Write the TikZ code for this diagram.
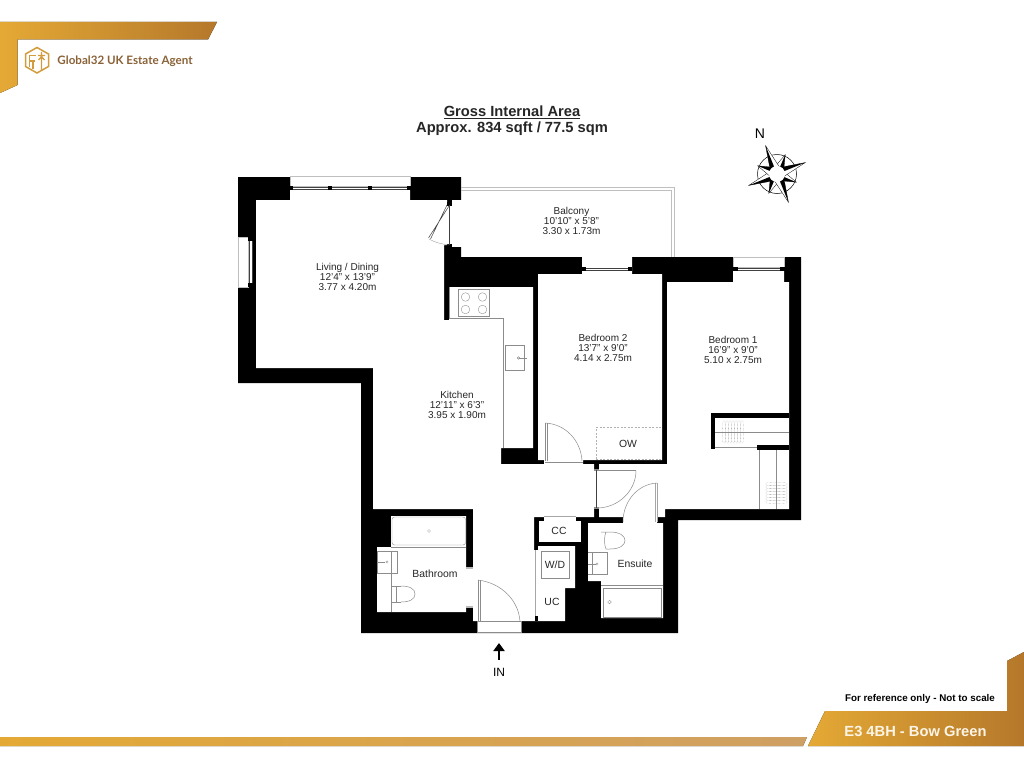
\documentclass[tikz,border=0pt]{standalone}
\usepackage{fontspec}
\setmainfont{Liberation Sans}
\newfontfamily\logofont{Lato}
\usetikzlibrary{arrows.meta}
\definecolor{goldL}{HTML}{E4A935}
\definecolor{goldR}{HTML}{B5782B}
\definecolor{sandR}{HTML}{CFA064}
\definecolor{logoText}{HTML}{8A6238}
\definecolor{logoGold}{HTML}{D29C3C}
\definecolor{fixGray}{HTML}{8C8C8C}
\tikzset{
    wall/.style={fill=black},
    room/.style={fill=white},
    fixture/.style={draw=fixGray, line width=0.5pt},
    thinline/.style={draw=black!75, line width=0.5pt},
    roomlabel/.style={font=\fontsize{10}{10}\selectfont, align=center, inner sep=0pt, text=black!85},
    tag/.style={font=\fontsize{10.4}{11}\selectfont, inner sep=0pt, text=black!85},
    hanger/.style={draw=black!55, line width=0.3pt, densely dotted},
}
\begin{document}
\begin{tikzpicture}[x=1pt, y=-1pt]
    \useasboundingbox[fill=white] (0,0) rectangle (1024,768);
    % banners
    \fill[left color=goldL, right color=goldR] (0,22) -- (217,22) -- (208,39.5) -- (17.5,39.5) -- (17.5,85) -- (0,93) -- cycle;
    \fill[left color=goldL, right color=sandR] (0,737) -- (807,737) -- (803,746) -- (0,746) -- cycle;
    \fill[left color=goldL, right color=goldR] (825,711) -- (1007,711) -- (1007,661) -- (1024,652) -- (1024,746) -- (808,746) -- cycle;
    % logo
    \draw[logoGold, line width=1.5pt] (37,47.5) -- (48.5,54) -- (48.5,66.5) -- (37,73) -- (25.5,66.5) -- (25.5,54) -- cycle;
    \draw[logoGold, line width=1.2pt] (29.5,55.5) -- (36,55.5) (29.5,55.5) -- (29.5,67) (29.5,61) -- (35,61) (33,68.5) -- (33,61);
    \draw[logoGold, line width=1.2pt] (38,55.5) -- (45,55.5) (41.5,52) -- (41.5,70) (38.5,60) -- (41.5,56.5) -- (44.5,60);
    \node[font=\logofont\bfseries\fontsize{11.6}{13}\selectfont, text=logoText, inner sep=0pt] (logotext) at (125,61) {Global32 UK Estate Agent};
    % walls
    \fill[wall] (238,177) -- (461,177) -- (461,200) -- (452,200) -- (452,247) -- (461,247) -- (461,257) -- (801,257) -- (801,520) -- (678,520) -- (678,633) -- (361,633) -- (361,383) -- (238,383) -- cycle;
    % living, kitchen and hall
    \fill[room] (256,200) -- (290,200) -- (290,177) -- (410,177) -- (410,200) -- (447,200) -- (447,206) -- (452,206) -- (452,245) -- (444,245) -- (444,320) -- (449,320) -- (449,287) -- (533,287) -- (533,448) -- (501,448) -- (501,464) -- (594,464) -- (594,470) -- (599,470) -- (599,508) -- (594,508) -- (594,517) -- (534,517) -- (534,621) -- (521,621) -- (521,633) -- (477,633) -- (477,621) -- (473,621) -- (473,509) -- (373,509) -- (373,368) -- (256,368) -- cycle;
    \fill[room] (238,237) rectangle (252,287);
    \fill[room] (452,200) rectangle (461,247);
    % bedroom 2
    \fill[room] (538,274) -- (582,274) -- (582,257) -- (632,257) -- (632,274) -- (662,274) -- (662,460) -- (583,460) -- (583,464) -- (544,464) -- (544,460) -- (538,460) -- cycle;
    % bedroom 1 and lobby
    \fill[room] (667,282) -- (733,282) -- (733,257) -- (784,257) -- (784,282) -- (789,282) -- (789,509) -- (665,509) -- (665,517) -- (599,517) -- (599,464) -- (667,464) -- cycle;
    % wardrobes
    \fill[wall] (711,413) rectangle (789,418);
    \fill[wall] (711,413) rectangle (715,449);
    \fill[wall] (757,445) rectangle (789,450);
    % bathroom
    \fill[room] (391,516) -- (466,516) -- (466,612) -- (377,612) -- (377,547) -- (391,547) -- cycle;
    \fill[room] (466,568) rectangle (473,607);
    % cupboards
    \fill[room] (539,521) rectangle (581,542);
    \fill[room] (544,516) rectangle (576,521);
    \fill[room] (538,546) -- (575,546) -- (575,588) -- (565,588) -- (565,621) -- (534,621) -- (534,550) -- (538,550) -- cycle;
    % ensuite
    \fill[room] (588,523) -- (623,523) -- (623,517) -- (657,517) -- (657,523) -- (663,523) -- (663,618) -- (601,618) -- (601,581) -- (588,581) -- cycle;
    % windows
    \draw[fixture, draw=black!25] (290,176.5) rectangle (410,186);
    \draw[thinline] (290,187) -- (410,187) (290,189) -- (410,189);
    \foreach \x in {290,329,369,408} \fill (\x-1,186) rectangle (\x+3,190);
    \draw[fixture, draw=black!25] (238,237) rectangle (248,287);
    \draw[thinline] (249.5,240) -- (249.5,284) (252,240) -- (252,284);
    \fill (248,237) rectangle (253,241);
    \fill (248,283) rectangle (253,287);
    \draw[thinline] (584,268) -- (630,268) (584,270) -- (630,270);
    \fill (582,267) rectangle (586,271);
    \fill (628,267) rectangle (632,271);
    \draw[fixture, draw=black!25] (733,257) rectangle (784,267);
    \draw[thinline] (735,268) -- (782,268) (735,270) -- (782,270);
    \fill (733,267) rectangle (738,271);
    \fill (780,267) rectangle (785,271);
    % balcony
    \draw[fixture, draw=black!25] (461,187) -- (674,187) -- (674,257) (461,190) -- (671.5,190) -- (671.5,257);
    % balcony door
    \fill (447,202) rectangle (452,206);
    \fill (447,244) rectangle (452,248);
    \draw[thinline, line width=0.7pt] (449,205) -- (449,245);
    \draw[thinline] (449,206) -- (428.5,238) (447,205) -- (430.5,239);
    \draw[fixture, line width=0.3pt] (429,239) .. controls (436,243) and (442,244) .. (449,245);
    % kitchen
    \draw[fixture] (449,318) -- (503,318) -- (503,448);
    \draw[fixture] (449,287) -- (449,318);
    \draw[fixture] (458.5,289.5) rectangle (489.5,316);
    \foreach \x in {465.5,482.5} \foreach \y in {297,309.5} \draw[fixture, line width=0.35pt] (\x,\y) circle (4.3);
    \draw[fixture] (505.5,345.5) rectangle (524,370);
    \draw[fixture] (519,358) -- (527,358);
    \draw[fixture] (518.5,358) circle (1.2);
    % bedroom doors
    \draw[fixture] (545,423) -- (545,461) (547,423) -- (547,461);
    \draw[fixture] (545,423) .. controls (566,424) and (581,441) .. (582,461);
    \draw[fixture] (545,462) -- (583,462);
    \draw[fixture, dash pattern=on 2pt off 1.5pt, draw=black!30] (596,459) -- (596,427.5) -- (662,427.5);
    \draw[fixture, dash pattern=on 2pt off 1.5pt, draw=black!30] (596,459) -- (662,459);
    % lobby doors
    \fill[fixGray] (594,469) rectangle (599,471);
    \fill[fixGray] (594,507) rectangle (599,509);
    \draw[thinline, line width=0.7pt] (596.5,470) -- (596.5,508);
    \draw[fixture] (597,470.5) -- (636,470.5);
    \draw[fixture] (636,470.5) .. controls (636,491) and (618,508) .. (597,508);
    \draw[fixture, draw=black!35] (655.5,483) -- (655.5,522) (657.5,483) -- (657.5,522);
    \draw[fixture] (657,483) .. controls (638,484) and (623,501) .. (623,522);
    % wardrobes inside
    \draw[fixture] (715,447.5) -- (757,447.5);
    \draw[fixture] (715,432) -- (789,432);
    \foreach \x in {723,726,729,732,735,738,741} \draw[hanger] (\x,421) -- (\x+2,421) .. controls (\x+3,432) .. (\x+2,443) -- (\x,443) .. controls (\x-1,432) .. (\x,421);
    \draw[fixture, line width=1pt] (759,450) -- (759,509);
    \draw[fixture, line width=0.8pt] (776,450) -- (776,509);
    \foreach \y in {483,486,489,492,495,498,501} \draw[hanger] (766,\y) -- (766,\y+2) .. controls (776,\y+3) .. (787,\y+2) -- (787,\y) .. controls (776,\y-1) .. (766,\y);
    % bathroom fittings
    \draw[fixture, rounded corners=2.5pt, line width=0.4pt] (392,517) rectangle (465.5,545);
    \draw[fixture] (391,547) -- (466,547);
    \draw[fixture, line width=0.3pt] (429,531) circle (1.5);
    \draw[fixture] (377,551) rectangle (397,573);
    \draw[fixture] (391,551) -- (391,612);
    \draw[fixture] (377,562) -- (385,562);
    \draw[fixture, line width=0.3pt] (387,562) circle (1.2);
    \draw[fixture] (391,586) -- (401,586) (391,602) -- (401,602) (396,586) -- (396,602);
    \draw[fixture] (401,586) .. controls (410,586) and (415,589) .. (415,594) .. controls (415,599) and (410,602) .. (401,602);
    \fill[fixGray!60] (466,567) rectangle (473,569);
    \fill[fixGray!60] (466,606) rectangle (473,608);
    % entrance door
    \draw[fixture] (478,580) -- (478,622) (480,580) -- (480,622);
    \draw[fixture] (478,580) .. controls (502,583) and (519,601) .. (520,622);
    \draw[fixture] (477,621.5) -- (521,621.5) -- (521,632.5) -- (477,632.5) -- cycle;
    % cupboard fittings
    \draw[fixture, draw=black!35] (544,516.5) -- (576,516.5);
    \draw[fixture] (541,551) rectangle (569,578);
    \draw[fixture, draw=black!35] (535,550) -- (535,616);
    \fill[black] (534.5,616) rectangle (538,621);
    % ensuite fittings
    \draw[fixture] (588,552.5) -- (607.5,552.5) -- (607.5,574.5) -- (588,574.5);
    \draw[fixture] (592,553) -- (592,574);
    \draw[fixture] (588,564) -- (596,564);
    \draw[fixture, line width=0.3pt] (597,564) circle (1.2);
    \draw[fixture] (601,532) -- (610,532) .. controls (620,532) and (625,536) .. (625,540.5) .. controls (625,545) and (620,549) .. (610,549) -- (606,549) .. controls (604,545) and (604,536) .. (606,532);
    \draw[fixture] (601,585) -- (663,585);
    \draw[fixture] (603.5,588.5) rectangle (661,617);
    \draw[fixture, line width=0.3pt] (609.5,602) circle (1.8);
    % compass
    \begin{scope}[shift={(777,174)}]
        \draw[black, line width=0.5pt] (0,0) circle (19.5);
        \foreach \a in {22,112,202,292} {
            \begin{scope}[rotate=\a]
                \draw[black, line width=0.3pt, fill=white] (0,0) -- (-5,5) -- (-30.5,0) -- (-5,-5) -- cycle;
                \fill (0,0) -- (-5,5) -- (-30.5,0) -- cycle;
            \end{scope}
            \begin{scope}[rotate=\a+45]
                \draw[black, line width=0.3pt, fill=white] (0,0) -- (-5,5) -- (-21,0) -- (-5,-5) -- cycle;
                \fill (0,0) -- (-5,-5) -- (-21,0) -- cycle;
            \end{scope}
        }
        \fill[white] (0,0) circle (8);
    \end{scope}
    % texts
    \node[font=\bfseries\fontsize{14.7}{15}\selectfont, inner sep=0pt, text=black!85] (areatitle) at (512,112) {\underline{Gross Internal Area}};
    \node[font=\bfseries\fontsize{14.7}{15}\selectfont, inner sep=0pt, text=black!85] (areavalue) at (512,129) {Approx. 834 sqft / 77.5 sqm};
    \node[font=\fontsize{14}{15}\selectfont, inner sep=0pt] (north) at (760,134) {N};
    \node[roomlabel] (living) at (347.5,277) {Living / Dining\\12'4" x 13'9"\\3.77 x 4.20m};
    \node[roomlabel] (balcony) at (571.5,220.5) {Balcony\\10'10" x 5'8"\\3.30 x 1.73m};
    \node[roomlabel] (bedtwo) at (603,348) {Bedroom 2\\13'7" x 9'0"\\4.14 x 2.75m};
    \node[roomlabel] (bedone) at (733,350) {Bedroom 1\\16'9" x 9'0"\\5.10 x 2.75m};
    \node[roomlabel] (kitchen) at (457,404.5) {Kitchen\\12'11" x 6'3"\\3.95 x 1.90m};
    \node[tag] (bathroom) at (435,574) {Bathroom};
    \node[tag] (ensuite) at (635,564) {Ensuite};
    \node[tag] (cc) at (559,531) {CC};
    \node[tag] (wd) at (555,565) {W/D};
    \node[tag] (uc) at (552,602) {UC};
    \node[tag] (ow) at (628,444) {OW};
    \node[font=\fontsize{12}{13}\selectfont, inner sep=0pt] (inlabel) at (499,672) {IN};
    \coordinate (intail) at (499,660);
    \coordinate (inhead) at (499,643);
    \draw[-{Triangle[length=8pt,width=11pt]}, line width=2.6pt] (intail) -- (inhead);
    \node[font=\bfseries\fontsize{9.8}{10}\selectfont, inner sep=0pt] (refnote) at (920,698.5) {For reference only - Not to scale};
    \node[font=\bfseries\fontsize{14.7}{15}\selectfont, text=white!88!goldL, inner sep=0pt] (postcode) at (915.5,731) {E3 4BH - Bow Green};
\end{tikzpicture}
\end{document}
